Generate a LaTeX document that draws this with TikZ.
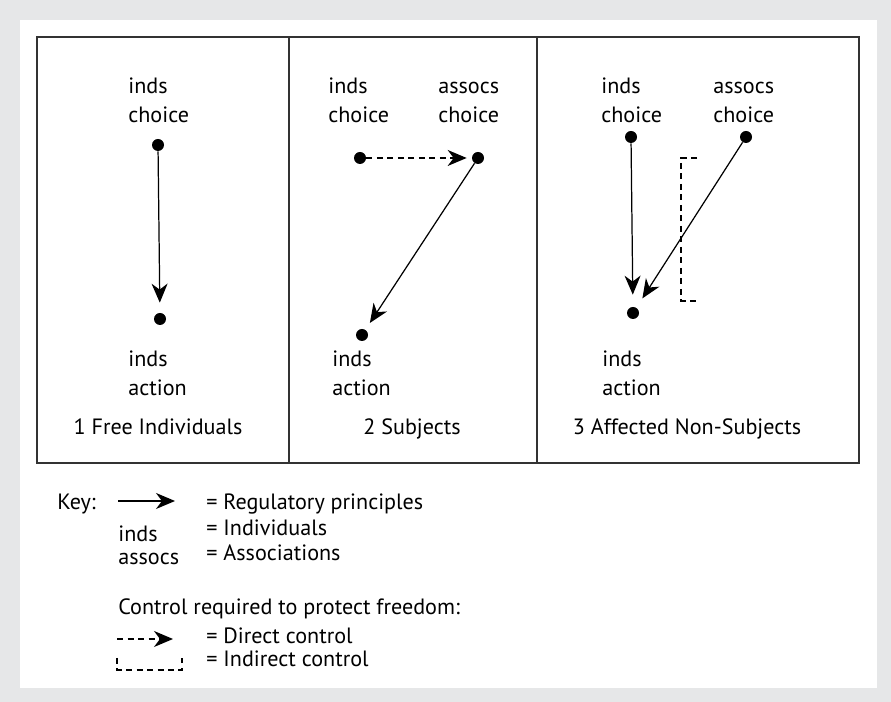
\documentclass[tikz,border=0pt]{standalone}
\usepackage{fontspec}
\setmainfont{PT Sans}
\usetikzlibrary{arrows.meta}

\definecolor{framegray}{HTML}{E6E7E8}
\definecolor{linegray}{HTML}{333333}

\tikzset{
    txt/.style={anchor=base west, align=left, inner sep=0pt, font=\fontsize{12.6pt}{16.5pt}\selectfont},
    title/.style={anchor=base, inner sep=0pt, font=\fontsize{12.6pt}{14pt}\selectfont},
    dot/.style={circle, fill=black, inner sep=0pt, minimum size=0.24cm},
    tip/.tip={Stealth[length=0.38cm,width=0.32cm,inset=0.12cm]},
    reg/.style={-tip, line width=0.7pt, shorten >=0.2cm},
    ctrl/.style={-tip, line width=0.7pt, dash pattern=on 0.12cm off 0.09cm},
    indirect/.style={line width=0.7pt, dash pattern=on 0.12cm off 0.09cm}
}

\begin{document}
\begin{tikzpicture}
        \useasboundingbox (0,0) rectangle (17.82,14.04);
        \fill[framegray] (0,0) rectangle (17.82,14.04);
        \fill[white] (0.40,0.28) rectangle (17.54,13.64);

        % the three panels
        \draw[linegray,line width=0.8pt] (0.74,4.78) rectangle (17.18,13.30);
        \draw[linegray,line width=0.8pt] (5.78,4.78) -- (5.78,13.30);
        \draw[linegray,line width=0.8pt] (10.74,4.78) -- (10.74,13.30);

        % panel 1
        \node[txt] (choice1) at (2.56, 11.58) {inds\\choice};
        \node[txt] (action1) at (2.56, 6.12) {inds\\action};
        \node[title] (free) at (3.16, 5.34) {1 Free Individuals};
        \node[dot] (c1) at (3.16, 11.14) {};
        \node[dot] (a1) at (3.20, 7.66) {};
        \draw[reg] (c1) -- (a1);

        % panel 2
        \node[txt] (choice2) at (6.56, 11.58) {inds\\choice};
        \node[txt] (assocs2) at (8.76, 11.58) {assocs\\choice};
        \node[txt] (action2) at (6.64, 6.12) {inds\\action};
        \node[title] (subjects) at (8.24, 5.34) {2 Subjects};
        \node[dot] (c2) at (7.20, 10.88) {};
        \node[dot] (s2) at (9.56, 10.88) {};
        \node[dot] (a2) at (7.24, 7.34) {};
        \draw[ctrl, shorten >=0.1cm] (c2) -- (s2);
        \draw[reg, shorten >=0.16cm] (s2) -- (a2);

        % panel 3
        \node[txt] (choice3) at (12.02, 11.58) {inds\\choice};
        \node[txt] (assocs3) at (14.26, 11.58) {assocs\\choice};
        \node[txt] (action3) at (12.04, 6.12) {inds\\action};
        \node[title] (nonsub) at (13.74, 5.34) {3 Affected Non-Subjects};
        \node[dot] (c3) at (12.62, 11.30) {};
        \node[dot] (s3) at (14.92, 11.30) {};
        \node[dot] (a3) at (12.66, 7.78) {};
        \draw[reg, shorten >=0.24cm] (c3) -- (a3);
        \draw[reg, shorten >=0.22cm] (s3) -- (a3);
        \coordinate (b1) at (13.94, 10.88);
        \coordinate (b2) at (13.94, 8.02);
        \draw[indirect] (b1) -- (13.62, 10.88) -- (13.62, 8.02) -- (b2);

        % key
        \node[txt] (key) at (1.14, 3.84) {Key:};
        \coordinate (k1) at (2.36, 4.02);
        \coordinate (k2) at (3.50, 4.02);
        \draw[reg, shorten >=0pt] (k1) -- (k2);
        \node[txt] (regp) at (4.12, 3.84) {= Regulatory principles};
        \node[txt] (kinds) at (2.36, 3.20) {inds};
        \node[txt] (kassocs) at (2.36, 2.74) {assocs};
        \node[txt] (indiv) at (4.12, 3.32) {= Individuals};
        \node[txt] (assoc) at (4.12, 2.82) {= Associations};

        \node[txt] (control) at (2.36, 1.74) {Control required to protect freedom:};
        \coordinate (k3) at (2.34, 1.26);
        \coordinate (k4) at (3.46, 1.26);
        \draw[ctrl] (k3) -- (k4);
        \node[txt] (direct) at (4.12, 1.16) {= Direct control};
        \coordinate (k5) at (2.34, 0.88);
        \coordinate (k6) at (3.64, 0.88);
        \draw[indirect] (k5) -- (2.34, 0.64) -- (3.64, 0.64) -- (k6);
        \node[txt] (indirectc) at (4.12, 0.70) {= Indirect control};

\end{tikzpicture}
\end{document}
